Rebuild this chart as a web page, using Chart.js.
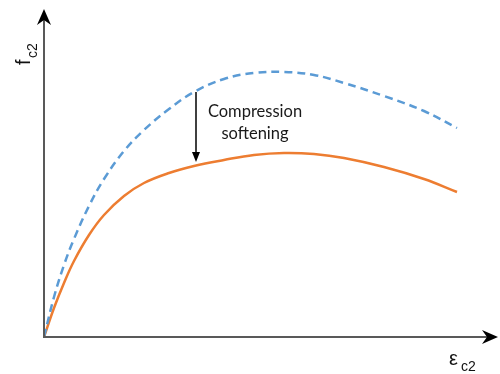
<!DOCTYPE html>
<html>
<head>
<meta charset="utf-8">
<script src="https://cdn.jsdelivr.net/npm/chart.js@4/dist/chart.umd.min.js"></script>
<style>
  html, body { margin: 0; padding: 0; background: #fff; }
  #wrap { width: 500px; height: 374px; }
</style>
</head>
<body>
<div id="wrap"><canvas id="c" width="500" height="374"></canvas></div>
<script>
// Strain (x) and stress (y) in arbitrary units
const strain = [0, 10, 20, 30, 45, 60, 80, 100, 125, 150, 180, 210, 240, 270, 300, 340, 380, 413];
const stressUnsoftened = [0, 40, 72, 98, 131, 158, 186, 207, 228, 245, 258, 264, 265, 262, 254, 241, 226, 209];
const stressSoftened = [0, 29, 54, 76, 102, 122, 141, 154, 164, 171, 177, 182, 184, 183, 179, 170, 158, 145];

// Arrow marking the reduction between the two curves
const arrowX = 152;
const arrowFrom = 245;
const arrowTo = 175;
const annotationLines = ['Compression', 'softening'];

const axisLabelY = { main: 'f', sub: 'c2' };
const axisLabelX = { main: 'ε', sub: 'c2' };

const toPoints = (xs, ys) => xs.map((x, i) => ({ x, y: ys[i] }));

const axisColor = '#595959';

const decorations = {
  id: 'decorations',
  afterDatasetsDraw(chart) {
    const { ctx, scales } = chart;
    const xs = scales.x, ys = scales.y;
    const x0 = xs.getPixelForValue(0), y0 = ys.getPixelForValue(0);
    ctx.save();

    // axes
    ctx.strokeStyle = axisColor;
    ctx.lineWidth = 2;
    ctx.beginPath();
    ctx.moveTo(x0, y0 + 1);
    ctx.lineTo(x0, 20);
    ctx.moveTo(x0 - 1, y0);
    ctx.lineTo(488, y0);
    ctx.stroke();

    // arrowheads
    ctx.fillStyle = '#000';
    ctx.beginPath();
    ctx.moveTo(x0, 9);
    ctx.lineTo(x0 - 7, 25);
    ctx.lineTo(x0, 20);
    ctx.lineTo(x0 + 7, 25);
    ctx.closePath();
    ctx.fill();
    ctx.beginPath();
    ctx.moveTo(498, y0);
    ctx.lineTo(482, y0 - 7);
    ctx.lineTo(487, y0);
    ctx.lineTo(482, y0 + 7);
    ctx.closePath();
    ctx.fill();

    // softening arrow
    const ax = xs.getPixelForValue(arrowX);
    const ay1 = ys.getPixelForValue(arrowFrom);
    const ay2 = ys.getPixelForValue(arrowTo);
    ctx.strokeStyle = '#000';
    ctx.lineWidth = 1.5;
    ctx.beginPath();
    ctx.moveTo(ax, ay1);
    ctx.lineTo(ax, ay2 - 8);
    ctx.stroke();
    ctx.beginPath();
    ctx.moveTo(ax, ay2);
    ctx.lineTo(ax - 4, ay2 - 10);
    ctx.lineTo(ax + 4, ay2 - 10);
    ctx.closePath();
    ctx.fill();

    // annotation text
    ctx.fillStyle = '#1a1a1a';
    ctx.font = '16.5px Lato, "Open Sans", sans-serif';
    ctx.textAlign = 'center';
    ctx.textBaseline = 'middle';
    ctx.fillText(annotationLines[0], 255, 112);
    ctx.fillText(annotationLines[1], 255, 134);

    // x axis label
    ctx.textAlign = 'left';
    ctx.textBaseline = 'alphabetic';
    ctx.fillStyle = '#111';
    ctx.font = '20px "Liberation Sans", Arial, sans-serif';
    ctx.fillText(axisLabelX.main, 449, 365);
    ctx.font = '14px "Liberation Sans", Arial, sans-serif';
    ctx.fillText(axisLabelX.sub, 461, 371);

    // y axis label (rotated)
    ctx.translate(30, 65);
    ctx.rotate(-Math.PI / 2);
    ctx.font = '20px "Liberation Sans", Arial, sans-serif';
    ctx.fillText(axisLabelY.main, 0, 0);
    ctx.font = '14px "Liberation Sans", Arial, sans-serif';
    ctx.fillText(axisLabelY.sub, 7, 7);
    ctx.restore();
  }
};

new Chart(document.getElementById('c'), {
  type: 'line',
  data: {
    datasets: [
      {
        data: toPoints(strain, stressUnsoftened),
        borderColor: '#5B9BD5',
        borderWidth: 2.5,
        borderDash: [8, 5],
        pointRadius: 0,
        tension: 0.4,
        fill: false
      },
      {
        data: toPoints(strain, stressSoftened),
        borderColor: '#ED7D31',
        borderWidth: 2.5,
        pointRadius: 0,
        tension: 0.4,
        fill: false
      }
    ]
  },
  options: {
    responsive: false,
    animation: false,
    layout: { padding: { left: 44, right: 6, top: 12, bottom: 37 } },
    plugins: { legend: { display: false }, tooltip: { enabled: false } },
    scales: {
      x: { type: 'linear', min: 0, max: 450, display: false },
      y: { type: 'linear', min: 0, max: 325, display: false }
    }
  },
  plugins: [decorations]
});
</script>
</body>
</html>
